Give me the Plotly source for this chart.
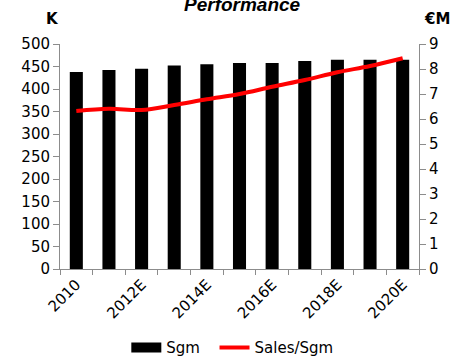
import plotly.graph_objects as go

categories = ["2010", "2011E", "2012E", "2013E", "2014E", "2015E",
              "2016E", "2017E", "2018E", "2019E", "2020E"]
sgm = [438, 442, 445, 452, 455, 458, 458, 462, 465, 465, 465]
sales_per_sgm = [6.32, 6.41, 6.36, 6.56, 6.79, 7.0, 7.29, 7.56, 7.87, 8.12, 8.43]
tick_labels = ["2010", "", "2012E", "", "2014E", "", "2016E", "", "2018E", "", "2020E"]

FONT = "DejaVu Sans"
AXIS_COLOR = "#8c8c8c"

fig = go.Figure()
fig.add_trace(go.Bar(x=categories, y=sgm, name="Sgm", marker_color="black",
                     marker_line_width=0, showlegend=False, yaxis="y"))
fig.add_trace(go.Scatter(x=categories, y=sales_per_sgm, name="Sales/Sgm", mode="lines",
                         line=dict(color="#ff0000", width=4, shape="spline"),
                         yaxis="y2", showlegend=False))
# legend-only entries
fig.add_trace(go.Scatter(x=[None], y=[None], name="Sgm  ", mode="lines",
                         line=dict(color="black", width=10)))
fig.add_trace(go.Scatter(x=[None], y=[None], name="Sales/Sgm", mode="lines",
                         line=dict(color="#ff0000", width=4)))

fig.update_layout(
    width=453, height=357,
    margin=dict(l=60, r=34, t=44, b=88, autoexpand=False),
    paper_bgcolor="white", plot_bgcolor="white",
    bargap=0.6,
    font=dict(family=FONT, size=15, color="black"),
    xaxis=dict(type="category", range=[-0.5, 10.5], tickmode="array",
               tickvals=categories, ticktext=tick_labels, tickangle=-45,
               tickson="boundaries", ticks="outside", ticklen=5, tickcolor=AXIS_COLOR,
               showline=True, linecolor=AXIS_COLOR, linewidth=1, showgrid=False,
               tickfont=dict(size=15), automargin=False),
    yaxis=dict(range=[0, 500], dtick=50, ticks="outside", ticklen=6, tickcolor=AXIS_COLOR,
               showline=True, linecolor=AXIS_COLOR, linewidth=1, showgrid=False,
               zeroline=False, tickfont=dict(size=15), automargin=False),
    yaxis2=dict(range=[0, 9], dtick=1, overlaying="y", side="right", ticks="outside",
                ticklen=6, tickcolor=AXIS_COLOR, showline=True, linecolor=AXIS_COLOR,
                linewidth=1, showgrid=False, zeroline=False, tickfont=dict(size=15),
                automargin=False),
    legend=dict(orientation="h", x=0.48, xanchor="center", y=0.072, yref="container",
                yanchor="top", font=dict(size=15), itemwidth=30, tracegroupgap=0),
    annotations=[
        dict(text="<b><i>Performance</i></b>", xref="paper", yref="paper", x=0.507, y=1,
             xanchor="center", yanchor="bottom", yshift=27, showarrow=False,
             font=dict(family="Liberation Sans", size=19)),
        dict(text="<b>K</b>", xref="paper", yref="paper", x=-0.022, y=1,
             xanchor="center", yanchor="bottom", yshift=14, showarrow=False,
             font=dict(size=15)),
        dict(text="<b>€M</b>", xref="paper", yref="paper", x=1.05, y=1,
             xanchor="center", yanchor="bottom", yshift=14, showarrow=False,
             font=dict(size=15)),
    ],
)

fig.write_html("out.html")
